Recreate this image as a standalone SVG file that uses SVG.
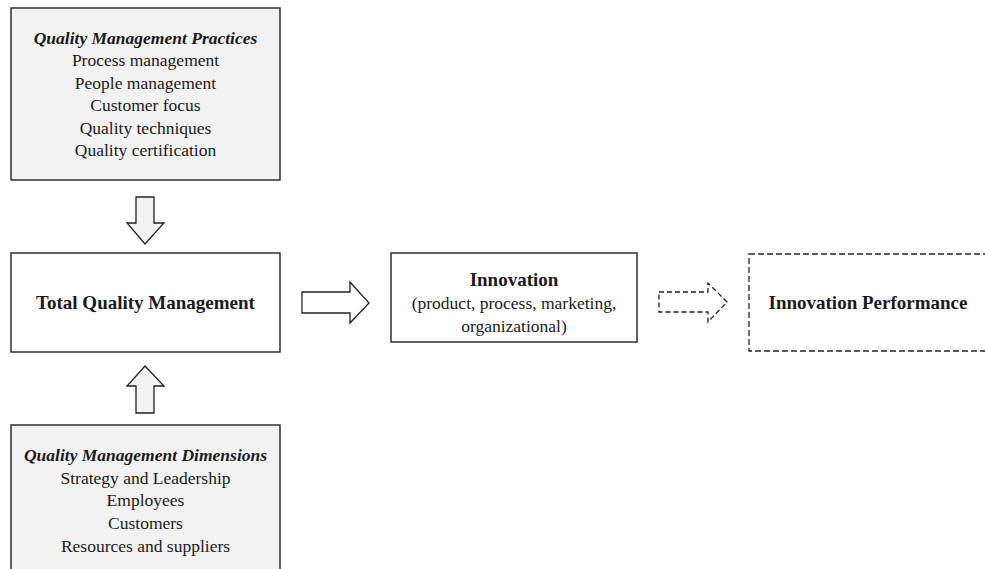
<svg xmlns="http://www.w3.org/2000/svg" width="985" height="569" viewBox="0 0 985 569">
  <style>
    .box { fill: #ffffff; stroke: #222222; stroke-width: 1.4; }
    .shaded { fill: #f2f2f2; }
    .dashed { fill: #ffffff; stroke: #222222; stroke-width: 1.3; stroke-dasharray: 6 3; }
    .arrow { fill: #f2f2f2; stroke: #222222; stroke-width: 1.3; stroke-linejoin: miter; }
    .arrow-open { fill: #ffffff; }
    .arrow-dashed { fill: #ffffff; stroke: #222222; stroke-width: 1.3; stroke-dasharray: 5 3; }
    text { font-family: "Liberation Serif", "Times New Roman", serif; font-size: 17.5px; fill: #1a1a1a; text-anchor: middle; }
    .title { font-weight: bold; font-style: italic; }
    .bold { font-weight: bold; font-size: 19px; }
  </style>

  <rect width="985" height="569" fill="#ffffff"/>

  <g id="qm-practices">
    <rect class="box shaded" x="11" y="8" width="269" height="172"/>
    <text class="title" x="145.5" y="44">Quality Management Practices</text>
    <text x="145.5" y="66">Process management</text>
    <text x="145.5" y="88.5">People management</text>
    <text x="145.5" y="111">Customer focus</text>
    <text x="145.5" y="133.5">Quality techniques</text>
    <text x="145.5" y="156">Quality certification</text>
  </g>

  <g id="tqm">
    <rect class="box" x="11" y="253" width="269" height="99"/>
    <text class="bold" x="145.5" y="309">Total Quality Management</text>
  </g>

  <g id="qm-dimensions">
    <rect class="box shaded" x="11" y="425" width="269" height="160"/>
    <text class="title" x="145.5" y="461">Quality Management Dimensions</text>
    <text x="145.5" y="483.5">Strategy and Leadership</text>
    <text x="145.5" y="506">Employees</text>
    <text x="145.5" y="529">Customers</text>
    <text x="145.5" y="552">Resources and suppliers</text>
  </g>

  <g id="innovation">
    <rect class="box" x="391" y="253" width="246" height="89"/>
    <text class="bold" x="514" y="286">Innovation</text>
    <text x="514" y="309">(product, process, marketing,</text>
    <text x="514" y="332">organizational)</text>
  </g>

  <g id="innovation-performance">
    <rect class="dashed" x="749" y="254" width="250" height="97"/>
    <text class="bold" x="868" y="309">Innovation Performance</text>
  </g>

  <g id="connectors">
    <!-- practices feed into TQM -->
    <path class="arrow" d="M136,197 H154 V223 H164 L145,244 L127,223 H136 Z"/>
    <!-- dimensions feed into TQM -->
    <path class="arrow" d="M145,366 L164,386 H154 V413 H136 V386 H127 Z"/>
    <!-- TQM drives innovation -->
    <path class="arrow arrow-open" d="M302,292 H350 V282 L369,303 L350,323 V313 H302 Z"/>
    <!-- innovation leads to performance -->
    <path class="arrow-dashed" d="M659,292 H708 V283 L727,302 L708,322 V312 H659 Z"/>
  </g>
</svg>
